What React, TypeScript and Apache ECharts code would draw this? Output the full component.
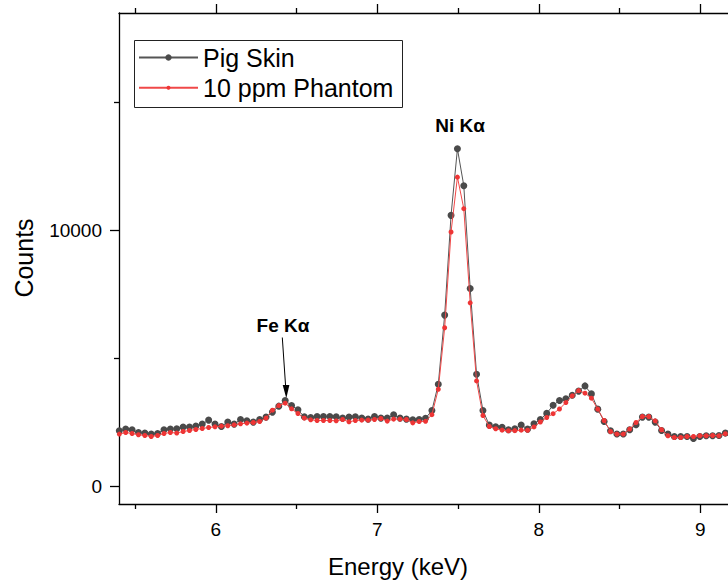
import React, { useEffect, useRef } from "react";
import * as echarts from "echarts";

const energy = [
  5.402, 5.4415, 5.481, 5.5205, 5.56, 5.5995, 5.639, 5.6785, 5.718, 5.7575,
  5.797, 5.8365, 5.876, 5.9155, 5.955, 5.9945, 6.034, 6.0735, 6.113, 6.1525,
  6.192, 6.2315, 6.271, 6.3105, 6.35, 6.3895, 6.429, 6.4685, 6.508, 6.5475,
  6.587, 6.6265, 6.666, 6.7055, 6.745, 6.7845, 6.824, 6.8635, 6.903, 6.9425,
  6.982, 7.0215, 7.061, 7.1005, 7.14, 7.1795, 7.219, 7.2585, 7.298, 7.3375,
  7.377, 7.4165, 7.456, 7.4955, 7.535, 7.5745, 7.614, 7.6535, 7.693, 7.7325,
  7.772, 7.8115, 7.851, 7.8905, 7.93, 7.9695, 8.009, 8.0485, 8.088, 8.1275,
  8.167, 8.2065, 8.246, 8.2855, 8.325, 8.3645, 8.404, 8.4435, 8.483, 8.5225,
  8.562, 8.6015, 8.641, 8.6805, 8.72, 8.7595, 8.799, 8.8385, 8.878, 8.9175,
  8.957, 8.9965, 9.036, 9.0755, 9.115, 9.1545,
];

const pigSkin = [
  2170, 2236, 2209, 2104, 2080, 2041, 2065, 2209, 2236, 2248,
  2314, 2314, 2353, 2431, 2587, 2431, 2340, 2509, 2431, 2610,
  2560, 2509, 2610, 2704, 2899, 3132, 3351, 3156, 2988, 2716,
  2688, 2727, 2727, 2727, 2716, 2665, 2704, 2716, 2665, 2626,
  2727, 2665, 2665, 2793, 2665, 2626, 2600, 2610, 2660, 2961,
  3989, 6689, 10585, 13184, 11743, 7730, 4379, 2961, 2390, 2326,
  2310, 2210, 2245, 2395, 2236, 2443, 2610, 2850, 3170, 3351,
  3420, 3560, 3720, 3923, 3611, 3016, 2532, 2170, 2041, 2041,
  2209, 2404, 2704, 2704, 2509, 2182, 2041, 1948, 1948, 1948,
  1870, 1948, 1975, 1975, 1987, 2080,
];

const phantom = [
  2041, 2104, 2065, 2014, 1987, 1948, 1987, 2065, 2104, 2080,
  2143, 2182, 2221, 2260, 2299, 2326, 2353, 2366, 2404, 2443,
  2470, 2493, 2532, 2665, 2976, 3156, 3249, 3027, 2844, 2665,
  2599, 2571, 2571, 2571, 2560, 2610, 2521, 2571, 2587, 2587,
  2610, 2649, 2548, 2626, 2626, 2610, 2480, 2532, 2540, 2800,
  3794, 6195, 9935, 12078, 10846, 7169, 4118, 2766, 2338, 2250,
  2195, 2170, 2176, 2195, 2190, 2320, 2513, 2688, 2838, 3020,
  3273, 3534, 3741, 3640, 3444, 3016, 2571, 2143, 2041, 2041,
  2236, 2493, 2727, 2727, 2560, 2209, 1975, 1909, 1909, 1948,
  1948, 1975, 1975, 1987, 1975, 2053,
];

const seriesNames = ["Pig Skin", "10 ppm Phantom"];
const xMajorTicks = [6, 7, 8, 9];
const xMinorTicks = [5.5, 6.5, 7.5, 8.5];
const yMajorTicks = [0, 10000];
const yMinorTicks = [5000, 15000];

export default function App() {
  const ref = useRef<HTMLDivElement>(null);
  useEffect(() => {
    const chart = echarts.init(ref.current!, null, { renderer: "svg", width: 728, height: 582 });
    const font = "'Liberation Sans', Arial, Helvetica, sans-serif";
    const xMin = 5.4, xMax = 9.4, yMin = -690, yMax = 18490;
    const lineStyle = { color: "#000", width: 1.3 };
    const axisLine = { show: true, onZero: false, lineStyle };
    const noLine = { show: false, onZero: false };
    const xBase: any = { type: "value", min: xMin, max: xMax, splitLine: { show: false }, gridIndex: 0 };
    const yBase: any = { type: "value", min: yMin, max: yMax, splitLine: { show: false }, gridIndex: 0, position: "left" };
    const labelStyle = { fontSize: 19, color: "#000", fontFamily: font, formatter: (v: number) => String(v) };

    chart.setOption({
      animation: false,
      backgroundColor: "#fff",
      grid: { left: 119, top: 13, bottom: 78, right: -37, containLabel: false, outerBoundsMode: "none" },
      xAxis: [
        { ...xBase, position: "bottom", axisLine,
          axisTick: { show: true, inside: false, length: 9, customValues: xMajorTicks, lineStyle },
          axisLabel: { show: true, customValues: xMajorTicks, margin: 16, ...labelStyle } },
        { ...xBase, position: "bottom", axisLine: noLine,
          axisTick: { show: true, inside: false, length: 5, customValues: xMinorTicks, lineStyle },
          axisLabel: { show: false } },
        { ...xBase, position: "top", axisLine,
          axisTick: { show: true, inside: false, length: 9, customValues: xMajorTicks, lineStyle },
          axisLabel: { show: false } },
        { ...xBase, position: "top", axisLine: noLine,
          axisTick: { show: true, inside: false, length: 5, customValues: xMinorTicks, lineStyle },
          axisLabel: { show: false } },
      ],
      yAxis: [
        { ...yBase, axisLine,
          axisTick: { show: true, inside: false, length: 9, customValues: yMajorTicks, lineStyle },
          axisLabel: { show: true, customValues: yMajorTicks, margin: 17, ...labelStyle } },
        { ...yBase, axisLine: noLine,
          axisTick: { show: true, inside: false, length: 5, customValues: yMinorTicks, lineStyle },
          axisLabel: { show: false } },
      ],
      legend: [
        { data: [seriesNames[0]], left: 138, top: 45, orient: "vertical", padding: 0,
          itemWidth: 59, itemHeight: 8, selectedMode: false,
          textStyle: { fontSize: 25, fontFamily: font, color: "#000" } },
        { data: [seriesNames[1]], left: 138, top: 75.3, orient: "vertical", padding: 0,
          itemWidth: 59, itemHeight: 5, selectedMode: false,
          textStyle: { fontSize: 25, fontFamily: font, color: "#000" } },
      ],
      series: [
        { name: seriesNames[0], type: "line", xAxisIndex: 0, yAxisIndex: 0,
          data: energy.map((e, i) => [e, pigSkin[i]]),
          symbol: "circle", symbolSize: 7, showSymbol: true,
          lineStyle: { color: "#555", width: 1 },
          itemStyle: { color: "#4a4a4a" }, z: 2 },
        { name: seriesNames[1], type: "line", xAxisIndex: 0, yAxisIndex: 0,
          data: energy.map((e, i) => [e, phantom[i]]),
          symbol: "circle", symbolSize: 5, showSymbol: true,
          lineStyle: { color: "#f04848", width: 1 },
          itemStyle: { color: "#ee3535" }, z: 3 },
      ],
      graphic: [
        { type: "rect", shape: { x: 134.5, y: 40.5, width: 268, height: 67 },
          style: { fill: "none", stroke: "#222", lineWidth: 1 }, z: 10 },
        { type: "text", x: 460, y: 125,
          style: { text: "Ni Kα", fontSize: 19, fontWeight: "bold", fontFamily: font, fill: "#000",
                   align: "center", verticalAlign: "middle" } },
        { type: "text", x: 283, y: 325,
          style: { text: "Fe Kα", fontSize: 19, fontWeight: "bold", fontFamily: font, fill: "#000",
                   align: "center", verticalAlign: "middle" } },
        { type: "line", shape: { x1: 282.3, y1: 337.5, x2: 285.6, y2: 386 },
          style: { stroke: "#000", lineWidth: 1 } },
        { type: "polygon", shape: { points: [[282.7, 385], [289.4, 385], [286.3, 398.3]] },
          style: { fill: "#000" } },
        { type: "text", x: 24, y: 258, rotation: Math.PI / 2,
          style: { text: "Counts", fontSize: 25, fontFamily: font, fill: "#000",
                   align: "center", verticalAlign: "middle" } },
        { type: "text", x: 398, y: 566,
          style: { text: "Energy (keV)", fontSize: 24, fontFamily: font, fill: "#000",
                   align: "center", verticalAlign: "middle" } },
      ],
    });
    return () => chart.dispose();
  }, []);
  return (
    <div
      ref={ref}
      style={{ position: "absolute", left: 0, top: 0, width: 728, height: 582, background: "#fff" }}
    />
  );
}
